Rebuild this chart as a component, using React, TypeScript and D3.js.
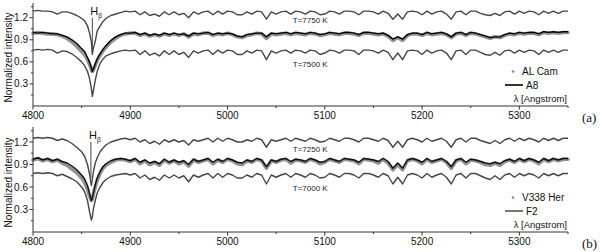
import * as d3 from "d3";

// wavelength grid (Angstrom), denser around H-beta
const WAVE = [
  4800, 4805, 4810, 4815, 4820, 4825, 4830, 4835, 4840, 4845, 4850,
  4853, 4856, 4858, 4860, 4861, 4862, 4864, 4866, 4869, 4872, 4875,
  4880, 4885, 4890,
  4895, 4900, 4905, 4910, 4915, 4920, 4925, 4930, 4935, 4940,
  4945, 4950, 4955, 4960, 4965, 4970, 4975, 4980, 4985, 4990,
  4995, 5000, 5005, 5010, 5015, 5020, 5025, 5030, 5035, 5040,
  5045, 5050, 5055, 5060, 5065, 5070, 5075, 5080, 5085, 5090,
  5095, 5100, 5105, 5110, 5115, 5120, 5125, 5130, 5135, 5140,
  5145, 5150, 5155, 5160, 5165, 5170, 5175, 5180, 5185, 5190,
  5195, 5200, 5205, 5210, 5215, 5220, 5225, 5230, 5235, 5240,
  5245, 5250, 5255, 5260, 5265, 5270, 5275, 5280, 5285, 5290,
  5295, 5300, 5305, 5310, 5315, 5320, 5325, 5330, 5335, 5340,
  5345, 5350,
];

// panel (a)
const T7750 = [
  1.29, 1.30, 1.29, 1.29, 1.28, 1.25, 1.28, 1.28, 1.26, 1.23, 1.19,
  1.16, 1.09, 1.00, 0.87, 0.70, 0.78, 0.88, 1.02, 1.09, 1.15, 1.19,
  1.23, 1.25, 1.27,
  1.29, 1.28, 1.29, 1.24, 1.28, 1.23, 1.25, 1.22, 1.28, 1.24,
  1.28, 1.24, 1.26, 1.20, 1.28, 1.25, 1.28, 1.29, 1.24, 1.29,
  1.25, 1.29, 1.28, 1.24, 1.24, 1.28, 1.25, 1.29, 1.28, 1.18,
  1.28, 1.25, 1.28, 1.29, 1.25, 1.29, 1.28, 1.25, 1.29, 1.28,
  1.24, 1.25, 1.29, 1.28, 1.25, 1.29, 1.29, 1.28, 1.24, 1.29,
  1.29, 1.28, 1.25, 1.29, 1.26, 1.18, 1.25, 1.18, 1.28, 1.29,
  1.28, 1.24, 1.29, 1.25, 1.28, 1.29, 1.25, 1.18, 1.28, 1.29,
  1.24, 1.29, 1.29, 1.26, 1.24, 1.23, 1.26, 1.23, 1.28, 1.29,
  1.25, 1.29, 1.26, 1.29, 1.28, 1.24, 1.29, 1.26, 1.29, 1.26,
  1.29, 1.29,
];
const A8 = [
  1.00, 0.99, 1.00, 0.99, 0.98, 0.98, 0.96, 0.94, 0.90, 0.85, 0.78,
  0.74, 0.66, 0.60, 0.52, 0.47, 0.50, 0.57, 0.64, 0.71, 0.77, 0.82,
  0.89, 0.94, 0.97,
  0.99, 0.99, 1.00, 0.97, 0.99, 0.96, 0.98, 0.96, 0.99, 0.97,
  0.99, 0.97, 0.98, 0.95, 0.99, 0.98, 0.99, 1.00, 0.97, 0.99,
  0.98, 0.99, 0.98, 0.95, 0.94, 0.97, 0.98, 0.99, 0.99, 0.94,
  0.99, 0.98, 0.99, 1.00, 0.98, 1.00, 0.99, 0.98, 1.00, 0.99,
  0.97, 0.98, 1.00, 0.99, 0.98, 1.00, 1.00, 0.99, 0.97, 1.00,
  1.00, 0.99, 0.98, 0.99, 0.96, 0.91, 0.94, 0.91, 0.97, 0.99,
  0.99, 0.97, 1.00, 0.98, 0.99, 1.00, 0.98, 0.94, 0.99, 1.00,
  0.97, 1.00, 0.99, 0.97, 0.95, 0.93, 0.94, 0.94, 0.97, 0.99,
  0.98, 1.00, 0.99, 1.00, 1.00, 0.98, 1.01, 1.00, 1.01, 1.00,
  1.01, 1.01,
];
const AL_CAM = [
  0.99, 1.00, 0.99, 0.98, 0.98, 0.97, 0.95, 0.92, 0.87, 0.81, 0.74,
  0.70, 0.63, 0.57, 0.50, 0.47, 0.49, 0.55, 0.62, 0.69, 0.75, 0.80,
  0.87, 0.92, 0.96,
  0.98, 0.99, 0.99, 0.96, 0.98, 0.95, 0.97, 0.95, 0.98, 0.96,
  0.98, 0.96, 0.98, 0.94, 0.98, 0.97, 0.99, 0.99, 0.96, 0.98,
  0.97, 0.99, 0.97, 0.94, 0.93, 0.96, 0.97, 0.99, 0.98, 0.92,
  0.98, 0.97, 0.98, 0.99, 0.97, 0.99, 0.98, 0.97, 0.99, 0.98,
  0.96, 0.97, 0.99, 0.98, 0.97, 0.99, 0.99, 0.98, 0.96, 0.99,
  0.99, 0.98, 0.97, 0.98, 0.95, 0.89, 0.93, 0.89, 0.96, 0.98,
  0.98, 0.96, 0.99, 0.97, 0.98, 0.99, 0.97, 0.93, 0.98, 0.99,
  0.96, 0.99, 0.98, 0.96, 0.94, 0.92, 0.94, 0.93, 0.96, 0.98,
  0.97, 0.99, 0.98, 0.99, 0.99, 0.97, 1.00, 0.99, 1.00, 0.99,
  1.00, 1.00,
];
const T7500 = [
  0.76, 0.77, 0.76, 0.77, 0.76, 0.72, 0.75, 0.74, 0.71, 0.66, 0.60,
  0.55, 0.47, 0.38, 0.24, 0.13, 0.20, 0.35, 0.47, 0.58, 0.64, 0.68,
  0.71, 0.73, 0.75,
  0.76, 0.75, 0.76, 0.70, 0.75, 0.69, 0.72, 0.68, 0.75, 0.70,
  0.75, 0.70, 0.73, 0.66, 0.75, 0.72, 0.75, 0.76, 0.70, 0.76,
  0.72, 0.76, 0.75, 0.70, 0.70, 0.75, 0.72, 0.76, 0.75, 0.63,
  0.75, 0.72, 0.75, 0.76, 0.72, 0.76, 0.75, 0.72, 0.76, 0.75,
  0.70, 0.72, 0.76, 0.75, 0.72, 0.76, 0.76, 0.75, 0.70, 0.76,
  0.76, 0.75, 0.72, 0.76, 0.73, 0.63, 0.72, 0.63, 0.75, 0.76,
  0.75, 0.70, 0.76, 0.72, 0.75, 0.76, 0.72, 0.63, 0.75, 0.76,
  0.70, 0.76, 0.76, 0.73, 0.70, 0.69, 0.73, 0.69, 0.75, 0.76,
  0.72, 0.76, 0.73, 0.76, 0.75, 0.70, 0.76, 0.73, 0.76, 0.73,
  0.76, 0.76,
];

// panel (b)
const T7250 = [
  1.25, 1.26, 1.25, 1.26, 1.25, 1.22, 1.24, 1.22, 1.18, 1.13, 1.07,
  1.01, 0.90, 0.78, 0.62, 0.70, 0.80, 0.92, 0.99, 1.07, 1.12, 1.16,
  1.20, 1.22, 1.24,
  1.25, 1.23, 1.25, 1.20, 1.23, 1.18, 1.21, 1.17, 1.23, 1.20,
  1.23, 1.20, 1.22, 1.16, 1.23, 1.21, 1.23, 1.25, 1.20, 1.25,
  1.21, 1.25, 1.23, 1.20, 1.20, 1.23, 1.21, 1.25, 1.23, 1.13,
  1.23, 1.21, 1.23, 1.25, 1.21, 1.25, 1.23, 1.21, 1.25, 1.23,
  1.20, 1.21, 1.25, 1.23, 1.21, 1.25, 1.25, 1.23, 1.20, 1.25,
  1.25, 1.23, 1.21, 1.25, 1.22, 1.13, 1.21, 1.13, 1.23, 1.25,
  1.23, 1.20, 1.25, 1.21, 1.23, 1.25, 1.21, 1.13, 1.23, 1.25,
  1.20, 1.25, 1.25, 1.22, 1.20, 1.18, 1.22, 1.18, 1.23, 1.25,
  1.21, 1.25, 1.22, 1.25, 1.23, 1.20, 1.25, 1.22, 1.25, 1.22,
  1.25, 1.25,
];
const F2 = [
  0.97, 0.99, 0.96, 0.98, 0.95, 0.97, 0.94, 0.92, 0.88, 0.83, 0.76,
  0.71, 0.62, 0.52, 0.42, 0.45, 0.52, 0.63, 0.72, 0.81, 0.87, 0.91,
  0.95, 0.97, 0.98,
  0.97, 0.95, 0.98, 0.93, 0.96, 0.92, 0.94, 0.91, 0.97, 0.93,
  0.96, 0.93, 0.95, 0.90, 0.97, 0.94, 0.96, 0.98, 0.93, 0.97,
  0.94, 0.98, 0.96, 0.93, 0.92, 0.96, 0.94, 0.98, 0.96, 0.87,
  0.96, 0.94, 0.97, 0.98, 0.94, 0.97, 0.96, 0.94, 0.98, 0.96,
  0.93, 0.94, 0.98, 0.96, 0.94, 0.98, 0.97, 0.96, 0.93, 0.98,
  0.97, 0.96, 0.94, 0.98, 0.94, 0.85, 0.92, 0.85, 0.96, 0.98,
  0.96, 0.93, 0.98, 0.94, 0.96, 0.98, 0.94, 0.87, 0.96, 0.98,
  0.93, 0.97, 0.96, 0.94, 0.92, 0.91, 0.93, 0.91, 0.95, 0.97,
  0.94, 0.98, 0.95, 0.98, 0.96, 0.93, 0.98, 0.95, 0.98, 0.96,
  0.98, 0.98,
];
const V338_HER = [
  0.96, 0.98, 0.95, 0.97, 0.94, 0.96, 0.92, 0.89, 0.84, 0.79, 0.72,
  0.66, 0.57, 0.48, 0.42, 0.44, 0.50, 0.60, 0.69, 0.78, 0.85, 0.89,
  0.93, 0.96, 0.97,
  0.96, 0.94, 0.97, 0.91, 0.95, 0.90, 0.93, 0.89, 0.96, 0.92,
  0.95, 0.91, 0.94, 0.88, 0.96, 0.93, 0.95, 0.97, 0.91, 0.96,
  0.93, 0.97, 0.95, 0.91, 0.90, 0.95, 0.93, 0.97, 0.95, 0.85,
  0.95, 0.93, 0.96, 0.97, 0.92, 0.96, 0.95, 0.93, 0.97, 0.95,
  0.91, 0.93, 0.97, 0.95, 0.93, 0.97, 0.96, 0.95, 0.91, 0.97,
  0.96, 0.95, 0.92, 0.97, 0.92, 0.83, 0.90, 0.83, 0.95, 0.97,
  0.95, 0.91, 0.97, 0.93, 0.95, 0.97, 0.93, 0.85, 0.95, 0.97,
  0.91, 0.96, 0.95, 0.93, 0.90, 0.89, 0.92, 0.89, 0.94, 0.96,
  0.93, 0.97, 0.94, 0.97, 0.95, 0.91, 0.97, 0.94, 0.97, 0.95,
  0.97, 0.97,
];
const T7000 = [
  0.78, 0.79, 0.78, 0.79, 0.78, 0.75, 0.77, 0.74, 0.71, 0.67, 0.60,
  0.54, 0.42, 0.28, 0.16, 0.20, 0.30, 0.42, 0.52, 0.60, 0.66, 0.70,
  0.74, 0.76, 0.77,
  0.78, 0.76, 0.78, 0.72, 0.76, 0.70, 0.73, 0.69, 0.76, 0.72,
  0.76, 0.72, 0.75, 0.67, 0.76, 0.73, 0.76, 0.78, 0.72, 0.78,
  0.73, 0.78, 0.76, 0.72, 0.72, 0.76, 0.73, 0.78, 0.76, 0.64,
  0.76, 0.73, 0.76, 0.78, 0.73, 0.78, 0.76, 0.73, 0.78, 0.76,
  0.72, 0.73, 0.78, 0.76, 0.73, 0.78, 0.78, 0.76, 0.72, 0.78,
  0.78, 0.76, 0.73, 0.78, 0.75, 0.64, 0.73, 0.64, 0.76, 0.78,
  0.76, 0.72, 0.78, 0.73, 0.76, 0.78, 0.73, 0.64, 0.76, 0.78,
  0.72, 0.78, 0.78, 0.75, 0.72, 0.70, 0.75, 0.70, 0.76, 0.78,
  0.73, 0.78, 0.75, 0.78, 0.76, 0.72, 0.78, 0.75, 0.78, 0.75,
  0.78, 0.78,
];

const X_TICKS = [4800, 4900, 5000, 5100, 5200, 5300];
const X_MINOR = [4850, 4950, 5050, 5150, 5250, 5350];
const Y_TICKS = [0.3, 0.6, 0.9, 1.2];
const Y_MINOR = [0.15, 0.45, 0.75, 1.05, 1.35];

const PANELS = [
  {
    top: 3, bottom: 106, tag: "(a)", star: "AL Cam", sp: "A8",
    obs: AL_CAM, tpl: A8, hot: T7750, cool: T7500,
    hotLabel: "T=7750 K", coolLabel: "T=7500 K", hotAt: 1.13, coolAt: 0.53,
    hb: 4861, tplColor: "#000", legendLine: "#000",
  },
  {
    top: 127, bottom: 232, tag: "(b)", star: "V338 Her", sp: "F2",
    obs: V338_HER, tpl: F2, hot: T7250, cool: T7000,
    hotLabel: "T=7250 K", coolLabel: "T=7000 K", hotAt: 1.07, coolAt: 0.55,
    hb: 4859.5, tplColor: "#111", legendLine: "#555",
  },
];

const FONT = "'Liberation Sans', Arial, sans-serif";
const CURVE = "#474747";

const x = d3.scaleLinear().domain([4800, 5350]).range([33, 568]);

function Panel({ p }) {
  const y = d3.scaleLinear().domain([0, 1.4]).range([p.bottom, p.top]);
  const line = d3.line<number>()
    .x((_, i) => x(WAVE[i]))
    .y((d) => y(d));
  const clip = (arr: number[]) => arr.slice(0, WAVE.length);
  const xAxisY = p.bottom;
  const xLeft = x(4800);

  return (
    <g>
      {/* reference spectra, shifted */}
      <path d={line(clip(p.hot)) || ""} fill="none" stroke={CURVE} strokeWidth={1.4} strokeLinejoin="round" />
      <path d={line(clip(p.cool)) || ""} fill="none" stroke={CURVE} strokeWidth={1.4} strokeLinejoin="round" />
      {/* observed star */}
      <path d={line(clip(p.obs)) || ""} fill="none" stroke="#919191" strokeWidth={3.6} strokeLinejoin="round" strokeLinecap="round" />
      {/* standard */}
      <path d={line(clip(p.tpl)) || ""} fill="none" stroke={p.tplColor} strokeWidth={1.4} strokeLinejoin="round" />

      {/* H-beta marker */}
      <line x1={x(p.hb)} x2={x(p.hb)} y1={y(1.2)} y2={y(0.72)} stroke={CURVE} strokeWidth={1} />
      <text x={x(p.hb) - 2} y={y(1.21) - 2} fontFamily={FONT} fontSize={11} fill="#111">H</text>
      <text x={x(p.hb) + 6} y={y(1.21) + 1} fontFamily={FONT} fontSize={6.5} fill="#111">β</text>

      <text x={x(5085)} y={y(p.hotAt)} textAnchor="middle" fontFamily={FONT} fontSize={8} fill="#222">{p.hotLabel}</text>
      <text x={x(5085)} y={y(p.coolAt)} textAnchor="middle" fontFamily={FONT} fontSize={8} fill="#222">{p.coolLabel}</text>

      {/* axes */}
      <line x1={xLeft} x2={xLeft} y1={p.top} y2={xAxisY} stroke="#333" strokeWidth={1} />
      <line x1={xLeft} x2={x(5350)} y1={xAxisY} y2={xAxisY} stroke="#333" strokeWidth={1} />
      {X_TICKS.map((t) => (
        <g key={t}>
          <line x1={x(t)} x2={x(t)} y1={xAxisY} y2={xAxisY + 3.5} stroke="#333" />
          <text x={x(t)} y={xAxisY + 12.5} textAnchor="middle" fontFamily={FONT} fontSize={10} fill="#111">{t}</text>
        </g>
      ))}
      {X_MINOR.map((t) => (
        <line key={t} x1={x(t)} x2={x(t)} y1={xAxisY} y2={xAxisY + 2} stroke="#333" />
      ))}
      {Y_TICKS.map((t) => (
        <g key={t}>
          <line x1={xLeft - 3.5} x2={xLeft} y1={y(t)} y2={y(t)} stroke="#333" />
          <text x={xLeft - 5} y={y(t) + 3.5} textAnchor="end" fontFamily={FONT} fontSize={10} fill="#111">{t.toFixed(1)}</text>
        </g>
      ))}
      {Y_MINOR.map((t) => (
        <line key={t} x1={xLeft - 2} x2={xLeft} y1={y(t)} y2={y(t)} stroke="#333" />
      ))}
      <text
        transform={`translate(12, ${(p.top + p.bottom) / 2 + 3}) rotate(-90)`}
        textAnchor="middle" fontFamily={FONT} fontSize={10} fill="#111"
      >Normalized intensity</text>

      {/* legend */}
      <circle cx={513} cy={p.bottom - 34.5} r={1.3} fill="#8c8c8c" />
      <text x={522} y={p.bottom - 31} fontFamily={FONT} fontSize={10} fill="#111">{p.star}</text>
      <line x1={505} x2={523} y1={p.bottom - 21} y2={p.bottom - 21} stroke={p.legendLine} strokeWidth={1.6} />
      <text x={526} y={p.bottom - 17.5} fontFamily={FONT} fontSize={10} fill="#111">{p.sp}</text>
      <text x={567} y={p.bottom - 4.5} textAnchor="end" fontFamily={FONT} fontSize={9.5} fill="#111">λ [Angstrom]</text>

      <text x={582} y={p.bottom + 16} fontFamily="'Liberation Serif', 'Times New Roman', serif" fontSize={13} fill="#111">{p.tag}</text>
    </g>
  );
}

export default function App() {
  return (
    <svg
      width={600}
      height={252}
      viewBox="0 0 600 252"
      style={{ position: "absolute", left: 0, top: 0, background: "#fff" }}
    >
      <rect width={600} height={252} fill="#fff" />
      {PANELS.map((p) => (
        <Panel key={p.tag} p={p} />
      ))}
    </svg>
  );
}
